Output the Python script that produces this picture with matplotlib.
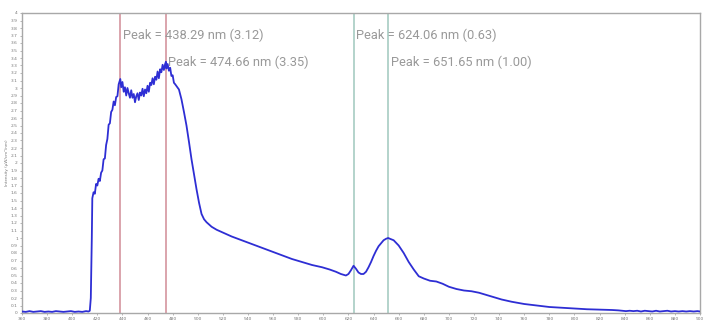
import matplotlib
matplotlib.use("Agg")
import matplotlib.pyplot as plt
from matplotlib.ticker import MultipleLocator, FormatStrFormatter

# Emission spectrum: wavelength (nm) and intensity
wavelength = [
    360, 363, 366, 369, 372, 375, 378, 381, 384, 387, 390, 393, 396, 399, 402,
    405, 408, 411, 413, 414, 414.8, 415.3, 415.6,
    416, 417, 418, 419, 420, 421, 422, 423, 424, 425, 426, 427, 428, 429, 430,
    431, 432, 433, 434, 435, 436, 437, 438.29, 439, 440, 441, 442, 443, 444, 445,
    446, 447, 448, 449, 450, 451, 452, 453, 454, 455, 456, 457, 458, 459, 460,
    461, 462, 463, 464, 465, 466, 467, 468, 469, 470, 471, 472, 473, 474, 474.66,
    475, 476, 477, 478, 479, 480, 481, 482,
    485, 487, 489, 491, 493, 495, 497, 499, 501, 503, 505, 507, 511, 515, 519,
    527, 535, 543, 551, 559, 567, 575, 583, 591, 599, 605, 610, 614, 618, 620,
    622, 624.06, 626, 628, 630, 632, 634, 636, 638, 640, 642, 644, 646, 648, 650,
    651.65, 653, 656, 660, 664, 668, 672, 676, 680, 685, 690, 695, 700, 706, 712,
    718, 724, 730, 736, 742, 750, 760, 770, 780, 790, 800, 810, 820, 830,
    835, 838, 841, 844, 847, 850, 853, 856, 859, 862, 865, 868, 871, 874, 877,
    880, 883, 886, 889, 892, 895, 898, 900,
]
intensity = [
    0.02, 0.015, 0.025, 0.015, 0.02, 0.025, 0.015, 0.02, 0.015, 0.025, 0.02, 0.015, 0.02,
    0.025, 0.015, 0.02, 0.015, 0.025, 0.02, 0.03, 0.20, 0.70, 1.00,
    1.53, 1.61, 1.59, 1.72, 1.70, 1.79, 1.76, 1.87, 1.90, 2.05, 2.06, 2.24, 2.32, 2.51, 2.53,
    2.68, 2.71, 2.82, 2.77, 2.88, 2.89, 3.05, 3.12, 3.01, 3.08, 2.95, 3.01, 2.90, 3.00, 2.93,
    2.87, 2.97, 2.87, 2.92, 2.81, 2.89, 2.93, 2.84, 2.94, 2.90, 2.99, 2.89, 2.98, 2.93, 3.03,
    2.95, 3.07, 3.04, 3.13, 3.05, 3.15, 3.11, 3.22, 3.13, 3.25, 3.21, 3.31, 3.24, 3.32, 3.35,
    3.26, 3.32, 3.23, 3.27, 3.16, 3.17, 3.07, 3.05,
    2.98, 2.85, 2.68, 2.50, 2.28, 2.05, 1.85, 1.65, 1.47, 1.32, 1.25, 1.21, 1.15, 1.11, 1.08,
    1.02, 0.97, 0.92, 0.87, 0.82, 0.77, 0.72, 0.68, 0.64, 0.61, 0.58, 0.55, 0.52, 0.50, 0.52,
    0.57, 0.63, 0.59, 0.54, 0.52, 0.52, 0.55, 0.61, 0.68, 0.76, 0.83, 0.89, 0.93, 0.97, 0.99,
    1.00, 0.99, 0.97, 0.90, 0.80, 0.68, 0.58, 0.49, 0.46, 0.43, 0.42, 0.39, 0.35, 0.32, 0.30,
    0.29, 0.27, 0.24, 0.21, 0.18, 0.15, 0.12, 0.10, 0.08, 0.07, 0.06, 0.05, 0.045, 0.04,
    0.035, 0.03, 0.025, 0.03, 0.025, 0.03, 0.02, 0.03, 0.025, 0.02, 0.03, 0.02, 0.025, 0.03, 0.02,
    0.025, 0.02, 0.025, 0.02, 0.025, 0.02, 0.025, 0.02,
]

# Marked peaks
peak_nm = [438.29, 474.66, 624.06, 651.65]
peak_val = [3.12, 3.35, 0.63, 1.00]
peak_colors = ["#dba4ac", "#dba4ac", "#b3d3cb", "#b3d3cb"]
label_rows = [0, 1, 0, 1]

fig = plt.figure(figsize=(7.04, 3.22), dpi=100)
ax = fig.add_axes([22 / 704, 9 / 322, 678 / 704, 300 / 322])

for nm, col in zip(peak_nm, peak_colors):
    ax.axvline(nm, color=col, lw=1.4, zorder=1)

ax.plot(wavelength, intensity, color="#2e2ed4", lw=1.3, zorder=3)

for nm, val, row in zip(peak_nm, peak_val, label_rows):
    y = 3.70 if row == 0 else 3.34
    ax.text(nm + 2.0, y, f"Peak = {nm:.2f} nm ({val:.2f})", fontsize=9.3,
            family="Roboto", color="#999999", va="center", ha="left", zorder=4)

ax.set_xlim(360, 900)
ax.set_ylim(0, 4)
ax.xaxis.set_major_locator(MultipleLocator(20))
ax.yaxis.set_major_locator(MultipleLocator(0.1))
ax.yaxis.set_major_formatter(FormatStrFormatter("%g"))
ax.tick_params(axis="both", labelsize=3.2, labelcolor="#777777", length=1.5,
               width=0.5, color="#999999", pad=1.5)
for s in ax.spines.values():
    s.set_color("#a8a8a8")
    s.set_linewidth(1.0)
ax.set_ylabel("Intensity (µW/cm²/nm)", fontsize=3, color="#777777", labelpad=1)

fig.savefig("out.png", dpi=100)
